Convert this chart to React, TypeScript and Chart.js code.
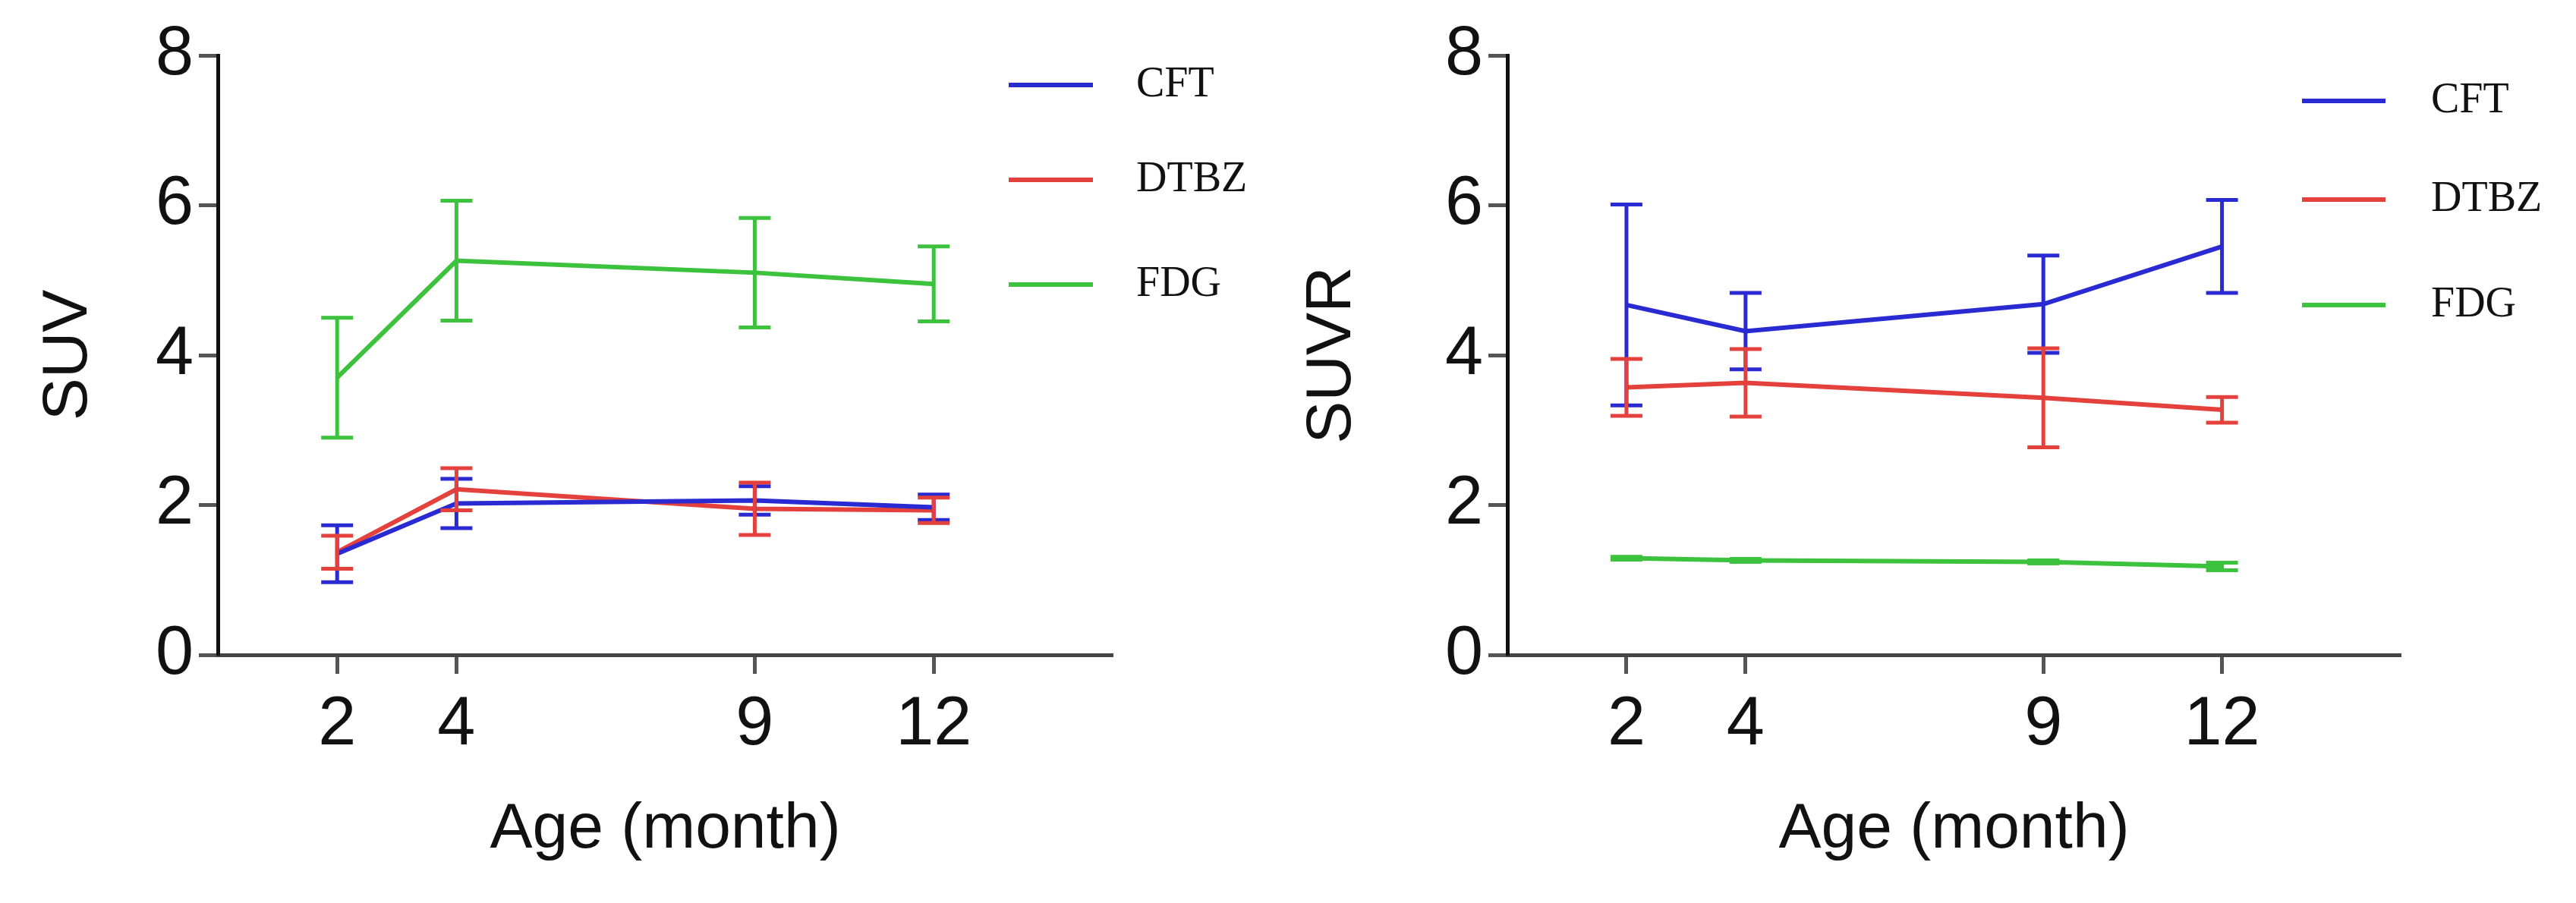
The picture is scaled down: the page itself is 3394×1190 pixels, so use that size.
import React, { useEffect, useRef } from "react";
import { Chart, registerables, Plugin } from "chart.js";

Chart.register(...registerables);

// x positions (age in months) and axis ticks
const ages = [2, 4, 9, 12];
const xTickValues = [2, 4, 9, 12];
const yTickValues = [0, 2, 4, 6, 8];

// SUV panel: means and error (+/-)
const suvCft = [1.35, 2.02, 2.06, 1.97];
const suvCftErr = [0.38, 0.33, 0.19, 0.17];
const suvDtbz = [1.37, 2.21, 1.95, 1.93];
const suvDtbzErr = [0.22, 0.28, 0.35, 0.17];
const suvFdg = [3.7, 5.26, 5.1, 4.95];
const suvFdgErr = [0.8, 0.8, 0.73, 0.5];

// SUVR panel
const suvrCft = [4.67, 4.32, 4.68, 5.45];
const suvrCftErr = [1.34, 0.51, 0.65, 0.62];
const suvrDtbz = [3.57, 3.63, 3.43, 3.27];
const suvrDtbzErr = [0.38, 0.45, 0.66, 0.17];
const suvrFdg = [1.29, 1.26, 1.24, 1.18];
const suvrFdgErr = [0.02, 0.02, 0.02, 0.05];

const seriesNames = ["CFT", "DTBZ", "FDG"];
const colors = ["#2a2ad2", "#e4403c", "#3cc23c"];

const NARROW = "'Liberation Sans Narrow', 'Liberation Sans', Arial, sans-serif";
const SANS = "'Liberation Sans', Arial, sans-serif";
const SERIF = "'Liberation Serif', 'Times New Roman', serif";

const errorBars: Plugin<"line"> = {
  id: "errorBars",
  afterDatasetsDraw(chart) {
    const { ctx } = chart;
    const yScale = chart.scales.y;
    ctx.save();
    chart.data.datasets.forEach((ds: any, i) => {
      const meta = chart.getDatasetMeta(i);
      ctx.strokeStyle = ds.borderColor;
      ctx.lineWidth = 5;
      meta.data.forEach((pt: any, j) => {
        const v = (ds.data[j] as any).y;
        const e = ds.errors[j];
        const top = yScale.getPixelForValue(v + e);
        const bot = yScale.getPixelForValue(v - e);
        const x = pt.x;
        ctx.beginPath();
        ctx.moveTo(x, top);
        ctx.lineTo(x, bot);
        ctx.moveTo(x - 21, top);
        ctx.lineTo(x + 21, top);
        ctx.moveTo(x - 21, bot);
        ctx.lineTo(x + 21, bot);
        ctx.stroke();
      });
    });
    ctx.restore();
  },
};

const sideLegend: Plugin<"line"> = {
  id: "sideLegend",
  afterDraw(chart, _args, opts: any) {
    const { ctx } = chart;
    ctx.save();
    chart.data.datasets.forEach((ds: any, i) => {
      const y = opts.rows[i];
      ctx.strokeStyle = ds.borderColor;
      ctx.lineWidth = 6;
      ctx.beginPath();
      ctx.moveTo(opts.x1, y);
      ctx.lineTo(opts.x2, y);
      ctx.stroke();
      ctx.fillStyle = "#111";
      ctx.font = `56px ${SERIF}`;
      ctx.textBaseline = "middle";
      ctx.textAlign = "left";
      ctx.fillText(ds.label, opts.textX, y);
    });
    ctx.restore();
  },
};

type PanelProps = {
  yTitle: string;
  series: number[][];
  errors: number[][];
  axisWidth: number;
  titlePad: number;
  legend: { x1: number; x2: number; textX: number; rows: number[] };
};

const Panel: React.FC<PanelProps> = ({ yTitle, series, errors, axisWidth, titlePad, legend }) => {
  const canvas = useRef<HTMLCanvasElement>(null);

  useEffect(() => {
    const chart = new Chart(canvas.current!.getContext("2d")!, {
      type: "line",
      data: {
        datasets: series.map((vals, i) => ({
          label: seriesNames[i],
          data: ages.map((a, j) => ({ x: a, y: vals[j] })),
          borderColor: colors[i],
          backgroundColor: colors[i],
          borderWidth: 6,
          pointRadius: 0,
          tension: 0,
          errors: errors[i],
        })) as any,
      },
      plugins: [errorBars, sideLegend],
      options: {
        responsive: true,
        maintainAspectRatio: false,
        animation: false,
        events: [],
        layout: { padding: { left: 0, top: 73, right: 231, bottom: 0 } },
        scales: {
          x: {
            type: "linear",
            min: 0,
            max: 15,
            afterBuildTicks: s => {
              s.ticks = xTickValues.map(v => ({ value: v }));
            },
            afterFit: s => {
              s.height = 327;
            },
            grid: {
              drawOnChartArea: false,
              drawTicks: true,
              tickLength: 25,
              tickWidth: 5,
              tickColor: "#555",
            },
            border: { display: true, color: "#444", width: 5 },
            ticks: {
              color: "#111",
              padding: 14,
              maxRotation: 0,
              font: { family: NARROW, size: 90 },
              callback: v => `${v}`,
            },
            title: {
              display: true,
              text: "Age (month)",
              color: "#111",
              font: { family: SANS, size: 84 },
              padding: { top: 0, bottom: 46 },
            },
          },
          y: {
            min: 0,
            max: 8,
            afterBuildTicks: s => {
              s.ticks = yTickValues.map(v => ({ value: v }));
            },
            afterFit: s => {
              s.width = axisWidth;
            },
            grid: {
              drawOnChartArea: false,
              drawTicks: true,
              tickLength: 25,
              tickWidth: 5,
              tickColor: "#555",
            },
            border: { display: true, color: "#111", width: 5 },
            ticks: {
              color: "#111",
              padding: 7,
              font: { family: NARROW, size: 90 },
              callback: v => `${v}`,
            },
            title: {
              display: true,
              text: yTitle,
              color: "#111",
              font: { family: SANS, size: 84 },
              padding: { top: titlePad, bottom: 0 },
            },
          },
        },
        plugins: {
          legend: { display: false },
          tooltip: { enabled: false },
          sideLegend: legend,
        } as any,
      },
    });

    return () => {
      chart.destroy();
    };
    // eslint-disable-next-line react-hooks/exhaustive-deps
  }, []);

  return (
    <div style={{ width: 1697, height: 1190, position: "relative" }}>
      <canvas ref={canvas}></canvas>
    </div>
  );
};

const App: React.FC = () => {
  return (
    <div
      style={{
        position: "fixed",
        left: 0,
        top: 0,
        width: 3394,
        height: 1190,
        display: "flex",
        background: "#fff",
      }}
    >
      <Panel
        yTitle="SUV"
        series={[suvCft, suvDtbz, suvFdg]}
        errors={[suvCftErr, suvDtbzErr, suvFdgErr]}
        axisWidth={287}
        titlePad={40}
        legend={{ x1: 1329, x2: 1440, textX: 1497, rows: [112, 237, 375] }}
      />
      <Panel
        yTitle="SUVR"
        series={[suvrCft, suvrDtbz, suvrFdg]}
        errors={[suvrCftErr, suvrDtbzErr, suvrFdgErr]}
        axisWidth={289}
        titlePad={8}
        legend={{ x1: 1336, x2: 1446, textX: 1506, rows: [133, 263, 402] }}
      />
    </div>
  );
};

export default App;
